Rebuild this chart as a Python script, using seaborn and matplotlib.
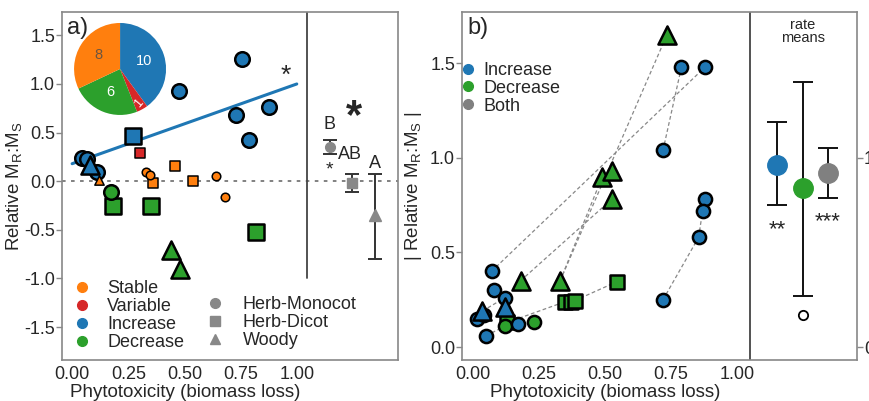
import numpy as np
import pandas as pd
import matplotlib
matplotlib.use("Agg")
import matplotlib.pyplot as plt
import seaborn as sns
from matplotlib.lines import Line2D

sns.set_theme(style="white")
plt.rcParams['font.family'] = ['Liberation Sans', 'DejaVu Sans']
plt.rcParams['axes.unicode_minus'] = False
plt.rcParams['mathtext.fontset'] = 'custom'
plt.rcParams['mathtext.rm'] = 'Liberation Sans'
plt.rcParams['mathtext.it'] = 'Liberation Sans'

# ---------------- data: panel a ----------------
a_x = [0.755, 0.475, 0.728, 0.876, 0.787, 0.045, 0.065, 0.11, 0.27, 0.08,
       0.12, 0.33, 0.345, 0.64, 0.68, 0.36, 0.46, 0.54,
       0.30,
       0.175, 0.18, 0.35, 0.82, 0.44, 0.48]
a_y = [1.26, 0.93, 0.68, 0.76, 0.42, 0.24, 0.23, 0.09, 0.46, 0.17,
       0.01, 0.09, 0.06, 0.05, -0.16, -0.02, 0.16, 0.0,
       0.29,
       -0.11, -0.25, -0.25, -0.52, -0.71, -0.90]
a_group = ['Increase'] * 10 + ['Stable'] * 8 + ['Variable'] + ['Decrease'] * 6
a_form = (['Herb-Monocot'] * 8 + ['Herb-Dicot', 'Woody'] +
          ['Woody', 'Herb-Monocot', 'Herb-Monocot', 'Herb-Monocot', 'Herb-Monocot',
           'Herb-Dicot', 'Herb-Dicot', 'Herb-Dicot'] +
          ['Herb-Dicot'] +
          ['Herb-Monocot', 'Herb-Dicot', 'Herb-Dicot', 'Herb-Dicot', 'Woody', 'Woody'])

reg_x = [0.0, 1.0]
reg_y = [0.18, 1.0]

pie_labels = ['Increase', 'Variable', 'Decrease', 'Stable']
pie_counts = [10, 1, 6, 8]

form_means = ['Herb-Monocot', 'Herb-Dicot', 'Woody']
form_mean = [0.35, -0.02, -0.35]
form_lo = [0.28, -0.11, -0.80]
form_hi = [0.42, 0.07, 0.07]
form_letters = ['B', 'AB', 'A']

# ---------------- data: panel b ----------------
b_x = [0.79, 0.88, 0.72, 0.88, 0.87, 0.855, 0.72, 0.07, 0.08, 0.12, 0.015, 0.05, 0.17,
       0.035, 0.12,
       0.735, 0.49, 0.525, 0.525, 0.18, 0.33,
       0.35, 0.37, 0.385, 0.545, 0.13,
       0.12, 0.23, 0.04]
b_y = [1.48, 1.48, 1.04, 0.78, 0.72, 0.58, 0.25, 0.40, 0.30, 0.26, 0.15, 0.06, 0.12,
       0.19, 0.21,
       1.65, 0.90, 0.93, 0.78, 0.35, 0.35,
       0.24, 0.24, 0.245, 0.345, 0.13,
       0.11, 0.13, 0.17]
b_group = (['Increase'] * 15 + ['Decrease'] * 13 + ['Increase'])
b_form = (['Herb-Monocot'] * 13 + ['Woody'] * 2 + ['Woody'] * 6 +
          ['Herb-Dicot'] * 5 + ['Herb-Monocot'] * 2 + ['Herb-Monocot'])
b_links = [(7, 1), (2, 0), (6, 5), (5, 4), (4, 3), (19, 18), (20, 16), (20, 15),
           (25, 21), (23, 24), (13, 9), (11, 26)]

rate_groups = ['Increase', 'Decrease', 'Both']
rate_mean = [0.96, 0.84, 0.92]
rate_lo = [0.75, 0.27, 0.79]
rate_hi = [1.19, 1.40, 1.05]
rate_outlier_y = [0.17]
rate_signif = ['**', '', '***']

# ---------------- style ----------------
COL = {'Stable': '#ff7f0e', 'Variable': '#d62728', 'Increase': '#1f77b4',
       'Decrease': '#2ca02c', 'Both': '#808080'}
MARK = {'Herb-Monocot': 'o', 'Herb-Dicot': 's', 'Woody': '^'}
SPINE = '#888888'

fig = plt.figure(figsize=(8.7, 4.01), dpi=100)
axa = fig.add_axes([0.0713, 0.102, 0.386, 0.868])
axb = fig.add_axes([0.531, 0.102, 0.454, 0.868])

def style_axes(ax):
    for s in ax.spines.values():
        s.set_color(SPINE)
        s.set_linewidth(1.2)
    ax.tick_params(axis='y', which='both', left=True, length=4, width=1,
                   color=SPINE, labelsize=13, pad=1)
    ax.tick_params(axis='x', which='both', bottom=False, length=0, labelsize=13, pad=4)

# ---------------- panel a ----------------
dfa = pd.DataFrame({'x': a_x, 'y': a_y, 'group': a_group, 'form': a_form})
axa.axhline(0, color='#777777', lw=1.3, ls=(0, (2, 3)), zorder=1)
sns.lineplot(x=reg_x, y=reg_y, ax=axa, color=COL['Increase'], lw=2.2, zorder=2)

big = {'Herb-Monocot': 110, 'Herb-Dicot': 120, 'Woody': 170}
small = {'Herb-Monocot': 38, 'Herb-Dicot': 48, 'Woody': 45}
for (g, f), sub in dfa.groupby(['group', 'form']):
    isbig = g in ('Increase', 'Decrease')
    sns.scatterplot(data=sub, x='x', y='y', ax=axa, color=COL[g], marker=MARK[f],
                    s=(big if isbig else small)[f], edgecolor='black',
                    linewidth=1.8 if isbig else 1.1, legend=False, zorder=3)

mx_a = [1.147, 1.245, 1.348]
for xi, f, m, lo, hi in zip(mx_a, form_means, form_mean, form_lo, form_hi):
    axa.errorbar([xi], [m], yerr=[[m - lo], [hi - m]], fmt=MARK[f], color='#333333',
                 mfc='#888888', mec='#888888', ms=7 if f != 'Woody' else 9,
                 capsize=5, elinewidth=1.4, capthick=1.4, zorder=4)
axa.text(mx_a[0], 0.58, form_letters[0], ha='center', va='center', fontsize=13)
axa.text(mx_a[1] - 0.01, 0.27, form_letters[1], ha='center', va='center', fontsize=13)
axa.text(mx_a[2], 0.185, form_letters[2], ha='center', va='center', fontsize=13)
axa.text(mx_a[0], 0.12, '*', ha='center', va='center', fontsize=14)
axa.text(mx_a[1] + 0.01, 0.66, '*', ha='center', va='center', fontsize=30, fontweight='bold')
axa.text(0.95, 1.08, '*', ha='center', va='center', fontsize=19)

axa.axvline(1.045, ymin=0.235, ymax=1, color='#444444', lw=1.3)
axa.set_xlim(-0.045, 1.45)
axa.set_ylim(-1.84, 1.74)
axa.set_xticks([0, 0.25, 0.5, 0.75, 1.0])
axa.set_xticklabels(['0.00', '0.25', '0.50', '0.75', '1.00'])
axa.set_yticks([-1.5, -1.0, -0.5, 0.0, 0.5, 1.0, 1.5])
axa.set_yticklabels(['-1.5', '-1.0', '-0.5', '0.0', '0.5', '1.0', '1.5'])
style_axes(axa)
axa.set_xlabel('Phytotoxicity (biomass loss)', fontsize=13.5)
axa.xaxis.set_label_coords(0.366, -0.068)
axa.set_ylabel(r'Relative M$_\mathrm{R}$:M$_\mathrm{S}$', fontsize=13.5)
axa.yaxis.set_label_coords(-0.113, 0.5)
axa.text(0.015, 0.985, 'a)', transform=axa.transAxes, ha='left', va='top', fontsize=17)

h1 = [Line2D([], [], marker='o', ls='', color=COL[g], ms=7) for g in
      ['Stable', 'Variable', 'Increase', 'Decrease']]
leg1 = axa.legend(h1, ['Stable', 'Variable', 'Increase', 'Decrease'], loc='upper left',
                  bbox_to_anchor=(-0.005, 0.265), frameon=False, fontsize=13,
                  handlelength=1.0, handletextpad=0.9, labelspacing=0.05, borderpad=0.2)
axa.add_artist(leg1)
h2 = [Line2D([], [], marker=MARK[f], ls='', color='#888888', ms=7) for f in form_means]
axa.legend(h2, form_means, loc='upper left', bbox_to_anchor=(0.392, 0.22), frameon=False,
           fontsize=13, handlelength=1.0, handletextpad=1.0, labelspacing=0.05, borderpad=0.2)

# pie inset
axp = fig.add_axes([0.138 - 0.0529, 0.828 - 0.1147, 0.1058, 0.2294])
wedges, _, autotexts = axp.pie(pie_counts, colors=[COL[g] for g in pie_labels],
                               startangle=90, counterclock=False,
                               autopct=lambda p: f'{p * sum(pie_counts) / 100:.0f}',
                               pctdistance=0.55, textprops={'color': 'white', 'fontsize': 10.5},
                               wedgeprops={'linewidth': 0})
for t, lab in zip(autotexts, pie_labels):
    if lab == 'Stable':
        t.set_color('#6b5540')
    if lab == 'Variable':
        x0, y0 = t.get_position()
        t.set_position((x0 * 1.55, y0 * 1.55))
        t.set_rotation(50)
        t.set_fontsize(9)
axp.set_xlim(-1.0, 1.0)
axp.set_ylim(-1.0, 1.0)
axp.set_aspect('equal')

# ---------------- panel b ----------------
dfb = pd.DataFrame({'x': b_x, 'y': b_y, 'group': b_group, 'form': b_form})
for i, j in b_links:
    sns.lineplot(x=[b_x[i], b_x[j]], y=[b_y[i], b_y[j]], ax=axb, color='#888888',
                 lw=0.9, ls=(0, (3, 2)), zorder=2, sort=False)
bsz = {'Herb-Monocot': 90, 'Herb-Dicot': 110, 'Woody': 170}
for (g, f), sub in dfb.groupby(['group', 'form']):
    sns.scatterplot(data=sub, x='x', y='y', ax=axb, color=COL[g], marker=MARK[f],
                    s=bsz[f], edgecolor='black', linewidth=1.8, legend=False, zorder=3)

mx_b = [1.152, 1.25, 1.345]
for xi, g, m, lo, hi in zip(mx_b, rate_groups, rate_mean, rate_lo, rate_hi):
    axb.errorbar([xi], [m], yerr=[[m - lo], [hi - m]], fmt='o', color='#111111',
                 mfc=COL[g], mec=COL[g], ms=14, capsize=7, elinewidth=1.4,
                 capthick=1.4, zorder=4)
sns.scatterplot(x=[mx_b[1]] * len(rate_outlier_y), y=rate_outlier_y, ax=axb,
                facecolor='white', edgecolor='black', s=45, linewidth=1.3, legend=False)
axb.text(mx_b[0], 0.62, rate_signif[0], ha='center', va='center', fontsize=16)
axb.text(mx_b[2], 0.66, rate_signif[2], ha='center', va='center', fontsize=16)
axb.text(1.25, 1.665, 'rate\nmeans', ha='center', va='center', fontsize=10.5, linespacing=0.9)

axb.axvline(1.05, color='#444444', lw=1.3)
axb.set_xlim(-0.042, 1.455)
axb.set_ylim(-0.069, 1.77)
axb.set_xticks([0, 0.25, 0.5, 0.75, 1.0])
axb.set_xticklabels(['0.00', '0.25', '0.50', '0.75', '1.00'])
axb.set_yticks([0.0, 0.5, 1.0, 1.5])
axb.set_yticklabels(['0.0', '0.5', '1.0', '1.5'])
style_axes(axb)
axb.set_xlabel('Phytotoxicity (biomass loss)', fontsize=13.5)
axb.xaxis.set_label_coords(0.362, -0.068)
axb.set_ylabel(r'| Relative M$_\mathrm{R}$:M$_\mathrm{S}$ |', fontsize=13.5)
axb.yaxis.set_label_coords(-0.096, 0.5)
axb.text(0.015, 0.985, 'b)', transform=axb.transAxes, ha='left', va='top', fontsize=17)

axr = axb.twinx()
axr.set_ylim(axb.get_ylim())
axr.set_yticks([0.0, 1.0])
axr.set_yticklabels(['0.0', '1.0'])
axr.tick_params(axis='y', right=True, length=4, width=1, color=SPINE, labelsize=13, pad=1)
for s in axr.spines.values():
    s.set_visible(False)
axr.grid(False)

h3 = [Line2D([], [], marker='o', ls='', color=COL[g], ms=7) for g in rate_groups]
axb.legend(h3, rate_groups, loc='upper left', bbox_to_anchor=(-0.04, 0.893), frameon=False,
           fontsize=13, handlelength=1.0, handletextpad=0.35, labelspacing=0.05, borderpad=0.2)

fig.savefig('out.png', dpi=100)
